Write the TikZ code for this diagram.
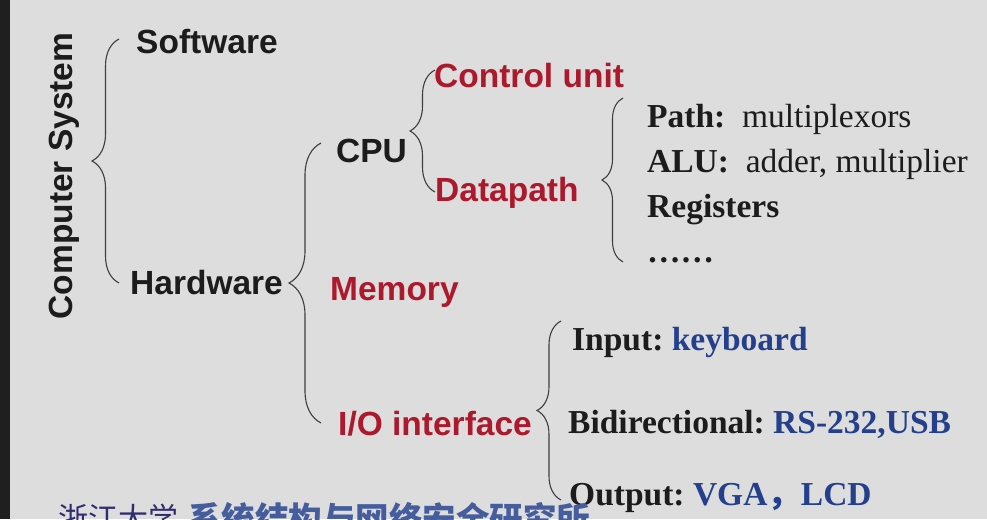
\documentclass[tikz,border=0pt]{standalone}
\usepackage{fontspec}
\setmainfont{Liberation Serif}
\setsansfont{Liberation Sans}
\newfontfamily\cjk{Noto Sans CJK SC}
\usetikzlibrary{decorations.pathreplacing, positioning}

\definecolor{slidebg}{RGB}{221,221,221}
\definecolor{slidered}{RGB}{172,24,44}
\definecolor{slideblue}{RGB}{36,64,140}
\definecolor{inkgray}{RGB}{28,28,28}
\definecolor{zjublue}{RGB}{48,44,112}

\tikzset{
  hd/.style={font=\sffamily\bfseries\fontsize{33.5}{40}\selectfont, inner sep=0pt, anchor=base west, text=inkgray},
  hdred/.style={hd, text=slidered},
  item/.style={font=\rmfamily\fontsize{33.5}{40}\selectfont, inner sep=0pt, anchor=base west, text=inkgray},
  brc/.style={draw=inkgray!85, line width=1.1pt, decorate, decoration={brace, amplitude=#1, aspect=0.5}}
}

\begin{document}
\frenchspacing
\begin{tikzpicture}[x=1pt, y=-1pt]
  % slide
  \clip (0,0) rectangle (987,519);
  \fill[slidebg] (0,0) rectangle (987,519);
  \fill[black!88] (0,0) rectangle (10,519);

  % root
  \node[hd, rotate=90, anchor=base] (cs) at (72,176) {Computer System};

  % software / hardware
  \node[hd] (sw) at (136,54) {Software};
  \node[hd] (hw) at (130,294) {Hardware};

  % hardware parts
  \node[hd] (cpu) at (336,162) {CPU};
  \node[hdred] (mem) at (330,300) {Memory};
  \node[hdred] (io) at (338,435) {I/O interface};

  % CPU parts
  \node[hdred] (cu) at (434,87) {Control unit};
  \node[hdred] (dp) at (435,201) {Datapath};

  % datapath parts
  \node[item] (path) at (647,127) {\textbf{Path:}\ \ multiplexors};
  \node[item] (alu) at (647,172) {\textbf{ALU:}\ \ adder, multiplier};
  \node[item] (reg) at (647,217) {\textbf{Registers}};
  \node[item] (dots) at (647,262) {\textbf{……}};

  % I/O devices
  \node[item] (in) at (572,350) {\textbf{Input: \textcolor{slideblue}{keyboard}}};
  \node[item] (bi) at (568,433) {\textbf{Bidirectional: \textcolor{slideblue}{RS-232,USB}}};
  \node[item] (out) at (569,505) {\textbf{Output: \textcolor{slideblue}{VGA{\cjk ，}LCD}}};

  % brace ends
  \coordinate (b1lo) at (119,283); \coordinate (b1hi) at (119,39);
  \coordinate (b2lo) at (321,423); \coordinate (b2hi) at (321,143);
  \coordinate (b3lo) at (435,192); \coordinate (b3hi) at (435,70);
  \coordinate (b4lo) at (623,262); \coordinate (b4hi) at (623,98);
  \coordinate (b5lo) at (561,500); \coordinate (b5hi) at (561,321);

  % braces
  \draw[brc=27] (b1lo) -- (b1hi);
  \draw[brc=32] (b2lo) -- (b2hi);
  \draw[brc=25] (b3lo) -- (b3hi);
  \draw[brc=21] (b4lo) -- (b4hi);
  \draw[brc=24] (b5lo) -- (b5hi);

  % footer (cut off)
  \node[font=\cjk\fontsize{30}{36}\selectfont, text=zjublue, inner sep=0pt, anchor=base west] (zju) at (58,529) {浙江大学};
  \node[font=\cjk\bfseries\fontsize{33.5}{40}\selectfont, text=slideblue!85, inner sep=0pt, anchor=base west] (inst) at (188,531) {系统结构与网络安全研究所};
\end{tikzpicture}
\end{document}
